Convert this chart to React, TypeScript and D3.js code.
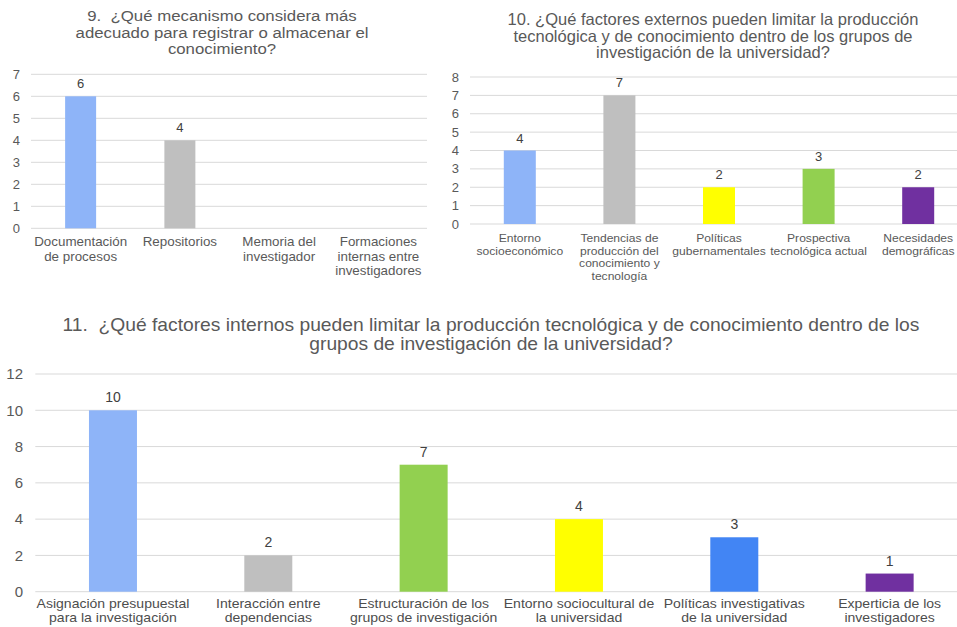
import React from "react";
import * as d3 from "d3";

const c1Categories = [
  ["Documentación", "de procesos"],
  ["Repositorios"],
  ["Memoria del", "investigador"],
  ["Formaciones", "internas entre", "investigadores"],
];
const c1Values = [6, 4, 0, 0];
const c1Colors = ["#8EB4F8", "#BFBFBF", "#FFFF00", "#92D050"];
const c1Title = ["9.\u00A0 ¿Qué mecanismo considera más", "adecuado para registrar o almacenar el", "conocimiento?"];

const c2Categories = [
  ["Entorno", "socioeconómico"],
  ["Tendencias de", "producción del", "conocimiento y", "tecnología"],
  ["Políticas", "gubernamentales"],
  ["Prospectiva", "tecnológica actual"],
  ["Necesidades", "demográficas"],
];
const c2Values = [4, 7, 2, 3, 2];
const c2Colors = ["#8EB4F8", "#BFBFBF", "#FFFF00", "#92D050", "#7030A0"];
const c2Title = [
  "10. ¿Qué factores externos pueden limitar la producción",
  "tecnológica y de conocimiento dentro de los grupos de",
  "investigación de la universidad?",
];

const c3Categories = [
  ["Asignación presupuestal", "para la investigación"],
  ["Interacción entre", "dependencias"],
  ["Estructuración de los", "grupos de investigación"],
  ["Entorno sociocultural de", "la universidad"],
  ["Políticas investigativas", "de la universidad"],
  ["Experticia de los", "investigadores"],
];
const c3Values = [10, 2, 7, 4, 3, 1];
const c3Colors = ["#8EB4F8", "#BFBFBF", "#92D050", "#FFFF00", "#4285F4", "#7030A0"];
const c3Title = [
  "11.\u00A0 ¿Qué factores internos pueden limitar la producción tecnológica y de conocimiento dentro de los",
  "grupos de investigación de la universidad?",
];

const FONT = "'Liberation Sans', Arial, sans-serif";

type ChartProps = {
  title: string[];
  titleX: number;
  titleY: number;
  titleSize: number;
  titleGap: number;
  titleStretch: number;
  categories: string[][];
  values: number[];
  colors: string[];
  max: number;
  step: number;
  x0: number;
  x1: number;
  yZero: number;
  yTop: number;
  gridRight: number;
  tickRight: number;
  barWidth: number;
  labelSize: number;
  labelGap: number;
  labelY: number;
  labelStretch: number;
  labelColor: string;
  tickSize: number;
  valueSize: number;
};

function BarChart(p: ChartProps) {
  const x = d3
    .scaleBand<number>()
    .domain(p.values.map((_, i) => i))
    .range([p.x0, p.x1]);
  const y = d3.scaleLinear().domain([0, p.max]).range([p.yZero, p.yTop]);
  const ticks = d3.range(0, p.max + 0.001, p.step);
  return (
    <g fontFamily={FONT}>
      {p.title.map((t, i) => (
        <text
          key={i}
          transform={`translate(${p.titleX},${p.titleY + i * p.titleGap}) scale(${p.titleStretch},1)`}
          textAnchor="middle"
          fontSize={p.titleSize}
          fill="#595959"
        >
          {t}
        </text>
      ))}
      {ticks.map((t) => (
        <g key={t}>
          <line
            x1={p.x0}
            x2={p.gridRight}
            y1={y(t)}
            y2={y(t)}
            stroke="#D9D9D9"
            strokeWidth={1}
          />
          <text
            x={p.tickRight}
            y={y(t)}
            dy="0.35em"
            textAnchor="end"
            fontSize={p.tickSize}
            fill="#595959"
          >
            {t}
          </text>
        </g>
      ))}
      {p.values.map((v, i) => {
        const cx = (x(i) as number) + x.bandwidth() / 2;
        return (
          <g key={i}>
            {v > 0 && (
              <>
                <rect
                  x={cx - p.barWidth / 2}
                  y={y(v)}
                  width={p.barWidth}
                  height={y(0) - y(v)}
                  fill={p.colors[i]}
                />
                <text
                  x={cx}
                  y={y(v) - 8}
                  textAnchor="middle"
                  fontSize={p.valueSize}
                  fill="#404040"
                >
                  {v}
                </text>
              </>
            )}
            {p.categories[i].map((l, j) => (
              <text
                key={j}
                transform={`translate(${cx},${p.labelY + j * p.labelGap}) scale(${p.labelStretch},1)`}
                textAnchor="middle"
                fontSize={p.labelSize}
                fill={p.labelColor}
              >
                {l}
              </text>
            ))}
          </g>
        );
      })}
    </g>
  );
}

export default function App() {
  return (
    <svg
      width={957}
      height={627}
      style={{ position: "absolute", left: 0, top: 0, background: "#fff" }}
    >
      <rect width={957} height={627} fill="#fff" />
      <BarChart
        title={c1Title}
        titleX={222}
        titleY={21}
        titleSize={15}
        titleGap={16.5}
        titleStretch={1.12}
        categories={c1Categories}
        values={c1Values}
        colors={c1Colors}
        max={7}
        step={1}
        x0={31}
        x1={428}
        yZero={228.3}
        yTop={74.3}
        gridRight={427}
        tickRight={20}
        barWidth={31}
        labelSize={13}
        labelGap={14.5}
        labelY={246}
        labelStretch={1.03}
        labelColor="#595959"
        tickSize={13}
        valueSize={13}
      />
      <BarChart
        title={c2Title}
        titleX={713}
        titleY={25}
        titleSize={16.5}
        titleGap={16.5}
        titleStretch={1}
        categories={c2Categories}
        values={c2Values}
        colors={c2Colors}
        max={8}
        step={1}
        x0={470}
        x1={968}
        yZero={224}
        yTop={77}
        gridRight={957}
        tickRight={459}
        barWidth={32}
        labelSize={11}
        labelGap={12.5}
        labelY={242}
        labelStretch={1.1}
        labelColor="#595959"
        tickSize={13}
        valueSize={13}
      />
      <BarChart
        title={c3Title}
        titleX={491}
        titleY={331}
        titleSize={17.5}
        titleGap={18.5}
        titleStretch={1.1}
        categories={c3Categories}
        values={c3Values}
        colors={c3Colors}
        max={12}
        step={2}
        x0={35.3}
        x1={967.3}
        yZero={591.7}
        yTop={374}
        gridRight={957}
        tickRight={23}
        barWidth={48}
        labelSize={13}
        labelGap={14}
        labelY={608}
        labelStretch={1.08}
        labelColor="#4d4d4d"
        tickSize={15}
        valueSize={14}
      />
    </svg>
  );
}
